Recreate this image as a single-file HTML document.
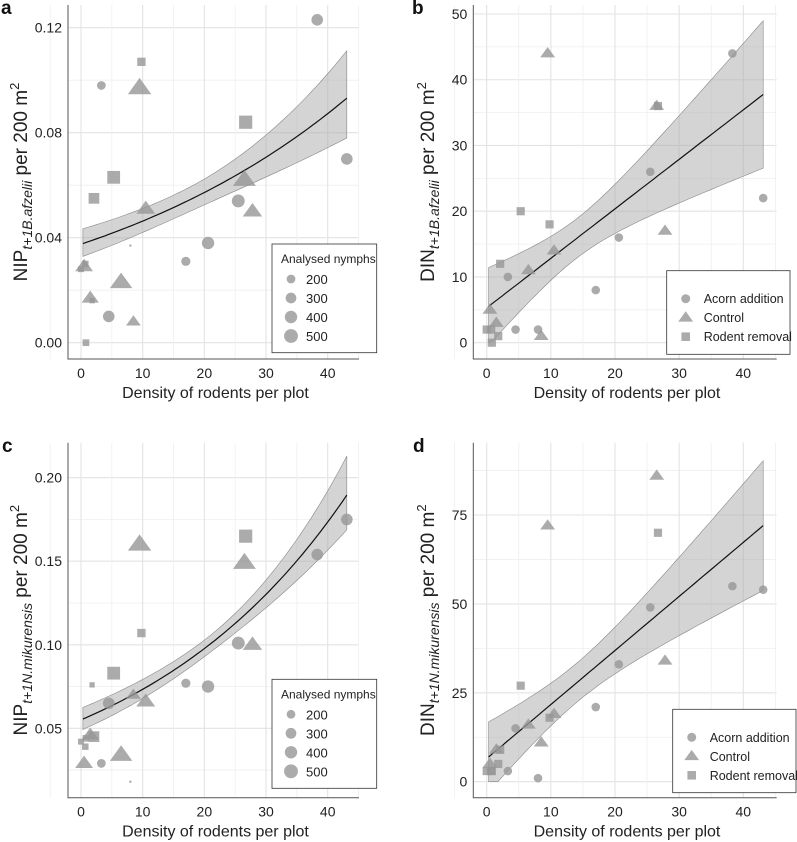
<!DOCTYPE html>
<html><head><meta charset="utf-8">
<style>
body{margin:0;background:#fff;width:797px;height:842px;overflow:hidden}
svg{display:block;font-family:"Liberation Sans",Arial,sans-serif}
</style></head><body>
<svg id="fig" width="797" height="842" viewBox="0 0 797 842"></svg>
<script>
// shared plot data (x = rodent density per plot)
const circX=[3.3,4.5,8,17,20.6,25.5,38.3,43.1];
const triX=[0.5,1.5,6.5,8.5,9.5,10.5,26.5,27.8];
const sqX=[0,0.7,0.8,1.8,2.1,5.3,9.8,26.7];
// analysed nymph counts (point size) for panels a & c
const circN=[200,350,15,220,400,430,350,350];
const triN=[280,260,440,190,480,310,460,330];
const sqN=[100,120,130,80,330,470,200,500];
// panel a: NIP B. afzelii
const aCirc=[0.098,0.010,0.037,0.031,0.038,0.054,0.123,0.070];
const aTri=[0.029,0.017,0.023,0.008,0.097,0.051,0.062,0.050];
const aSq=[0.028,0.030,0.000,0.016,0.055,0.063,0.107,0.084];
// panel b: DIN B. afzelii
const bCirc=[10,2,2,8,16,26,44,22];
const bTri=[5,3,11,1,44,14,36,17];
const bSq=[2,2,0,1,12,20,18,36];
// panel c: NIP N. mikurensis
const cCirc=[0.029,0.065,0.018,0.077,0.075,0.101,0.154,0.175];
const cTri=[0.029,0.046,0.034,0.070,0.160,0.066,0.149,0.100];
const cSq=[0.042,0.039,0.044,0.076,0.045,0.083,0.107,0.165];
// panel d: DIN N. mikurensis
const dCirc=[3,15,1,21,33,49,55,54];
const dTri=[5,9,16,11,72,19,86,34];
const dSq=[3,3,3,5,9,27,18,70];
// fits: [intercept, slope, xmean, se0, se1]
const aFit=[-3.283,0.0211,18,0.085,0.0062];
const bFit=[5.3,0.753,14,3,0.371];
const cFit=[-2.900,0.0287,22,0.05,0.00496];
const dFit=[6.5,1.52,14,5.5,0.597];
const aTicks=[0,0.04,0.08,0.12], aTickLbl=["0.00","0.04","0.08","0.12"];
const bTicks=[0,10,20,30,40,50], bTickLbl=["0","10","20","30","40","50"];
const cTicks=[0.05,0.10,0.15,0.20], cTickLbl=["0.05","0.10","0.15","0.20"];
const dTicks=[0,25,50,75], dTickLbl=["0","25","50","75"];
const xTicks=[0,10,20,30,40];
const legendSizes=[200,300,400,500];
const legendGroups=["Acorn addition","Control","Rodent removal"];

const NS="http://www.w3.org/2000/svg";
const svg=document.getElementById('fig');
function mk(tag,attrs,parent){const e=document.createElementNS(NS,tag);for(const k in attrs)e.setAttribute(k,attrs[k]);(parent||svg).appendChild(e);return e;}
const FILL="rgba(150,150,150,0.8)";

function panel(cfg){
  const g=mk('g',{});
  
  
  const X0=cfg.x0px, X40=cfg.x40px;
  const sx=v=>X0+(X40-X0)*v/40;
  const sy=v=>cfg.yb+(cfg.yt-cfg.yb)*(v-cfg.vb)/(cfg.vt-cfg.vb);
  const L=cfg.left,R=cfg.right,T=cfg.top,B=cfg.bottom;
  const vAtTop=cfg.vb+(T-cfg.yb)*(cfg.vt-cfg.vb)/(cfg.yt-cfg.yb);
  const vAtBot=cfg.vb+(B-cfg.yb)*(cfg.vt-cfg.vb)/(cfg.yt-cfg.yb);
  const step=cfg.ticks[1]-cfg.ticks[0];
  for(let v=cfg.ticks[0]-step*4;v<=vAtTop;v+=step/2){
    if(v<vAtBot-1e-9)continue;
    const major=Math.abs(((v-cfg.ticks[0])/step)-Math.round((v-cfg.ticks[0])/step))<1e-6;
    const l=mk('line',{x1:L,x2:R,y1:sy(v),y2:sy(v),stroke:major?'#e3e3e3':'#efefef','stroke-width':major?1.1:0.8},g);
    
    
  }
  for(let v=-5;v<=45;v+=5){
    const major=v%10===0;
    const l=mk('line',{x1:sx(v),x2:sx(v),y1:T,y2:B,stroke:major?'#e3e3e3':'#efefef','stroke-width':major?1.1:0.8},g);
    
    
  }
  const f=cfg.fit;const up=[],lo=[],ln=[];
  for(let i=0;i<=60;i++){
    const x=0.3+42.8*i/60;
    const se=Math.sqrt(f[3]*f[3]+(x-f[2])*(x-f[2])*f[4]*f[4]);
    let m=f[0]+f[1]*x;
    if(cfg.log){ln.push([x,Math.exp(m)]);up.push([x,Math.exp(m+se)]);lo.push([x,Math.exp(m-se)]);}
    else{ln.push([x,m]);up.push([x,m+se]);lo.push([x,Math.max(0,m-se)]);}
  }
  let d='M'+up.map(p=>sx(p[0]).toFixed(1)+','+sy(p[1]).toFixed(1)).join('L')+'L'+lo.slice().reverse().map(p=>sx(p[0]).toFixed(1)+','+sy(p[1]).toFixed(1)).join('L')+'Z';
  const band=mk('path',{d:d,fill:'rgba(170,170,170,0.5)',stroke:'#888','stroke-width':0.6},g);
  
  
  const line=mk('path',{d:'M'+ln.map(p=>sx(p[0]).toFixed(1)+','+sy(p[1]).toFixed(1)).join('L'),fill:'none',stroke:'#111','stroke-width':1.2},g);
  
  
  const rad=n=>cfg.sized?Math.max(1,0.31*Math.sqrt(n)):4.3;
  function circ(x,y,r,name){const e=mk('circle',{cx:x,cy:y,r:r,fill:FILL},g);}
  function tri(x,y,r,name){const s=r*1.5;const e=mk('polygon',{points:`${x},${y-s} ${x-s*1.15},${y+s*0.6} ${x+s*1.15},${y+s*0.6}`,fill:FILL},g);}
  function sq(x,y,r,name){const s=r*0.95;const e=mk('rect',{x:x-s,y:y-s,width:2*s,height:2*s,fill:FILL},g);}
  cfg.circ.forEach((v,i)=>circ(sx(circX[i]),sy(v),rad(circN[i]),'point-acorn-addition'));
  cfg.tri.forEach((v,i)=>tri(sx(triX[i]),sy(v),rad(triN[i]),'point-control'));
  cfg.sq.forEach((v,i)=>sq(sx(sqX[i]),sy(v),rad(sqN[i]),'point-rodent-removal'));
  const ax=mk('path',{d:`M${L},${T}L${L},${B}L${R},${B}`,fill:'none',stroke:'#555','stroke-width':1},g);
  
  
  cfg.ticks.forEach((v,i)=>{
    const t=mk('text',{x:L-6,y:sy(v)+5,'text-anchor':'end','font-size':14,fill:'#222'},g);t.textContent=cfg.tickLbl[i];
    
    
  });
  xTicks.forEach(v=>{
    const t=mk('text',{x:sx(v),y:B+19,'text-anchor':'middle','font-size':14,fill:'#222'},g);t.textContent=v;
    
    
  });
  const xt=mk('text',{x:(L+R)/2+2,y:B+39,'text-anchor':'middle','font-size':16,fill:'#222'},g);
  xt.textContent='Density of rodents per plot';
  
  
  const yt=mk('text',{transform:`translate(${cfg.ytx},${(T+B)/2}) rotate(-90)`,'text-anchor':'middle','font-size':19,fill:'#222'},g);
  yt.innerHTML=`${cfg.yl}<tspan font-size="14" font-style="italic" dy="5">${cfg.sub}</tspan><tspan dy="-5"> per 200 m</tspan><tspan font-size="13" dy="-8">2</tspan>`;
  
  
  const lt=mk('text',{x:cfg.lx,y:cfg.ly,'font-size':19,'font-weight':'bold',fill:'#111'},g);lt.textContent=cfg.letter;
  
  
  const lg=mk('g',{},g);
  
  
  const [bx,by,bw,bh]=cfg.leg;
  mk('rect',{x:bx,y:by,width:bw,height:bh,fill:'#fff',stroke:'#333','stroke-width':0.8},lg);
  if(cfg.sized){
    const tt=mk('text',{x:bx+9,y:by+19,'font-size':12,fill:'#222'},lg);tt.textContent='Analysed nymphs';
    
    
    legendSizes.forEach((n,i)=>{
      const yy=by+35+i*19;
      const c=mk('circle',{cx:bx+19,cy:yy,r:0.31*Math.sqrt(n),fill:FILL},lg);
      
      
      const t=mk('text',{x:bx+34,y:yy+5,'font-size':13,fill:'#222'},lg);t.textContent=n;
      
      
    });
  } else {
    legendGroups.forEach((n,i)=>{
      const yy=by+cfg.legOff+i*19, cx=bx+19;
      if(i===0)circ(cx,yy,4.5,'legend-symbol-acorn');
      else if(i===1)tri(cx,yy,4.3,'legend-symbol-control');
      else sq(cx,yy,4.5,'legend-symbol-removal');
      const t=mk('text',{x:bx+37,y:yy+4.5,'font-size':12.5,fill:'#222'},lg);t.textContent=n;
      
      
    });
  }
}
panel({letter:'a',left:68,right:359,top:5,bottom:359,x0px:81,x40px:327.7,yb:342.7,yt:27.7,vb:0,vt:0.12,
  ticks:aTicks,tickLbl:aTickLbl,fit:aFit,log:true,sized:true,circ:aCirc,tri:aTri,sq:aSq,
  yl:'NIP',sub:'t+1B.afzelii',ytx:27,lx:1,ly:14,leg:[272,244,104.7,108.7]});
panel({letter:'b',left:473.3,right:776.7,top:5,bottom:359,x0px:486.7,x40px:743.3,yb:342.7,yt:14,vb:0,vt:50,
  ticks:bTicks,tickLbl:bTickLbl,fit:bFit,log:false,sized:false,circ:bCirc,tri:bTri,sq:bSq,
  yl:'DIN',sub:'t+1B.afzelii',ytx:434,lx:412,ly:14,leg:[666.7,270.7,123.3,83.6],legOff:28});
panel({letter:'c',left:68,right:359,top:442.7,bottom:797.7,x0px:81,x40px:327.7,yb:728.3,yt:477.7,vb:0.05,vt:0.20,
  ticks:cTicks,tickLbl:cTickLbl,fit:cFit,log:true,sized:true,circ:cCirc,tri:cTri,sq:cSq,
  yl:'NIP',sub:'t+1N.mikurensis',ytx:27,lx:2,ly:452,leg:[272,679.3,104.7,109]});
panel({letter:'d',left:473.3,right:776.7,top:442.7,bottom:797.7,x0px:486.7,x40px:743.3,yb:781.7,yt:515,vb:0,vt:75,
  ticks:dTicks,tickLbl:dTickLbl,fit:dFit,log:false,sized:false,circ:dCirc,tri:dTri,sq:dSq,
  yl:'DIN',sub:'t+1N.mikurensis',ytx:434,lx:413,ly:452,leg:[672.7,709.3,123.3,83.4],legOff:28});
</script>
</body></html>
